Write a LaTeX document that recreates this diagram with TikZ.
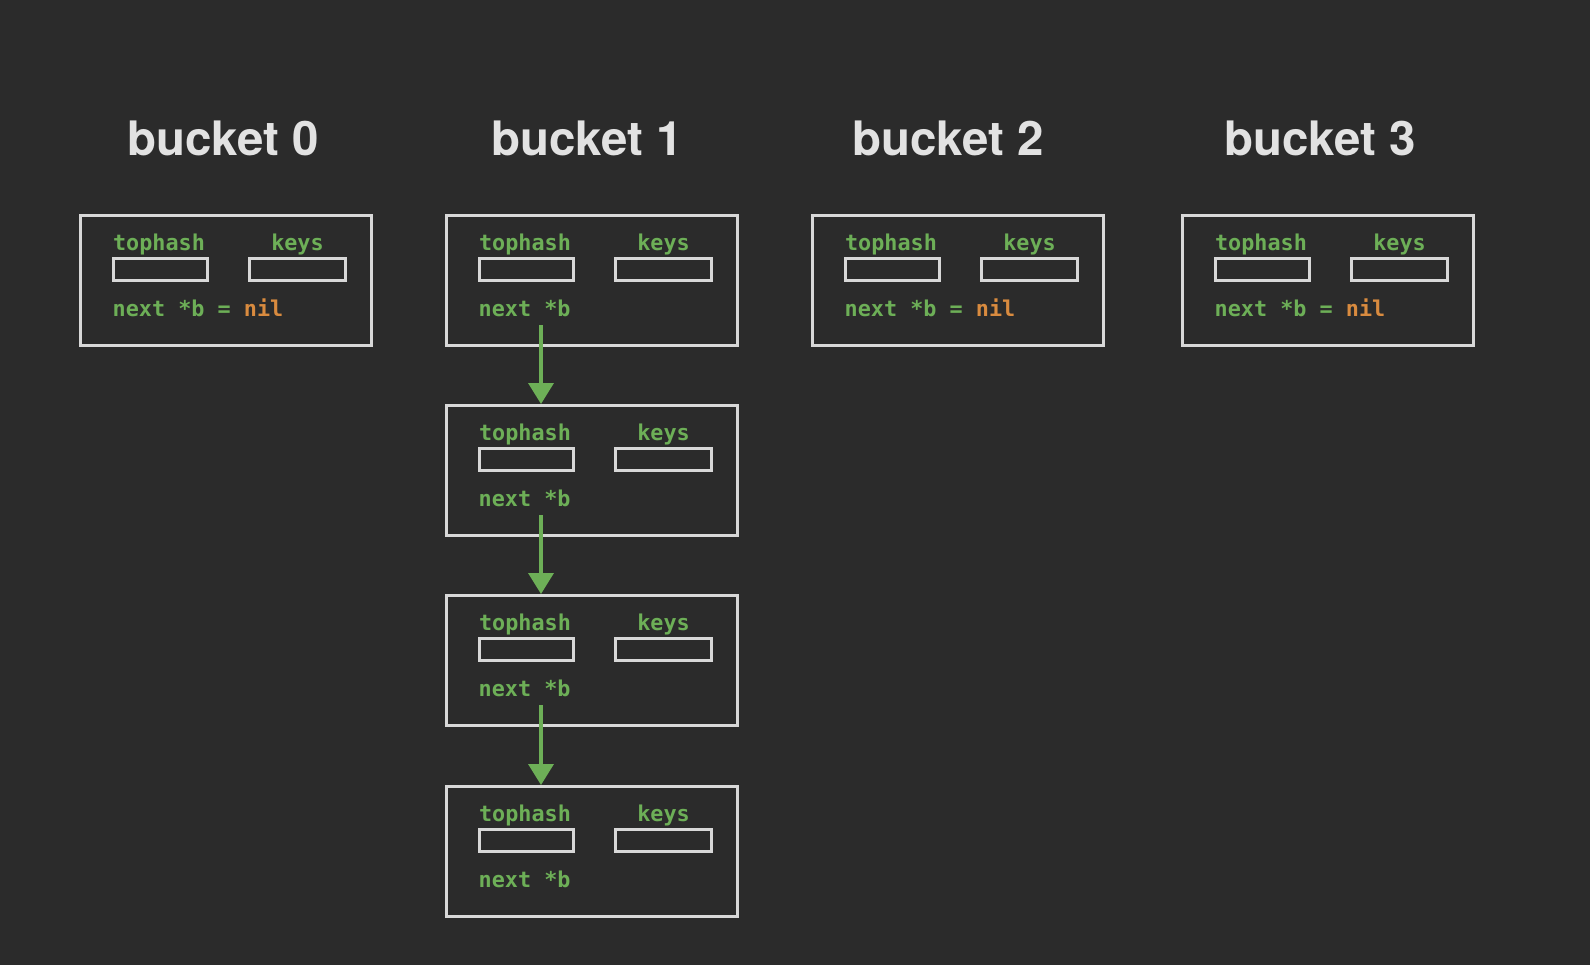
\documentclass[tikz,border=0pt]{standalone}
\usepackage{fontspec}
\setsansfont{TeX Gyre Heros}
\setmonofont{DejaVu Sans Mono}
\usetikzlibrary{positioning,arrows.meta}

\definecolor{bg}{HTML}{2B2B2B}
\definecolor{linegray}{HTML}{D8D8D8}
\definecolor{titlegray}{HTML}{E2E2E2}
\definecolor{codegreen}{HTML}{6DAF57}
\definecolor{nilorange}{HTML}{D98B3F}

\begin{document}
\begin{tikzpicture}[x=0.1mm,y=-0.1mm,
    title/.style={font={\fontsize{13.5}{16}\sffamily\bfseries},text=titlegray,inner sep=0pt},
    bucket/.style={draw=linegray,line width=0.3mm,anchor=north west,
        minimum width=29.1mm,minimum height=13mm,inner sep=0pt},
    slot/.style={draw=linegray,line width=0.3mm,
        minimum width=9.4mm,minimum height=2.2mm,inner sep=0pt},
    field/.style={font={\fontsize{6.2}{7}\ttfamily\bfseries},text=codegreen,inner sep=0pt},
    link/.style={draw=codegreen,line width=0.35mm,
        -{Triangle[length=2.1mm,width=2.5mm]}},
    ]
    % Background
    \fill[bg] (0,0) rectangle (1590,965);
    \useasboundingbox (0,0) rectangle (1590,965);

    % Bucket array
    \foreach \i/\x/\t in {0/79/223,1/445/587,2/811/948,3/1181/1320}{
        \node[title] (title\i) at (\t,138) {bucket \i};
        \node[bucket] (b\i) at (\x,214) {};
    }

    % Overflow buckets of bucket 1
    \node[bucket] (c1) at (445,404) {};
    \node[bucket] (c2) at (445,594) {};
    \node[bucket] (c3) at (445,785) {};

    % Fields of every bucket
    \foreach \b in {b0,b1,b2,b3,c1,c2,c3}{
        \node[slot,below right=4.3mm and 3.3mm of \b.north west] (th-\b) {};
        \node[slot,below right=4.3mm and 16.9mm of \b.north west,minimum width=9.6mm] (ks-\b) {};
        \node[field,above=0.7mm of th-\b.north,anchor=base,xshift=-0.15mm] (thl-\b) {tophash};
        \node[field,above=0.7mm of ks-\b.north,anchor=base] (ksl-\b) {keys};
    }

    % Next pointers
    \foreach \b in {b0,b2,b3}
        \node[field,below=3.4mm of th-\b.south west,anchor=base west] (nx-\b)
            {next *b = {\color{nilorange}nil}};
    \foreach \b in {b1,c1,c2,c3}
        \node[field,below=3.4mm of th-\b.south west,anchor=base west] (nx-\b) {next *b};

    % Overflow chain
    \foreach \b/\c in {b1/c1,c1/c2,c2/c3}{
        \coordinate (out-\b) at ([shift={(96,111)}]\b.north west);
        \draw[link] (out-\b) -- (out-\b |- \c.north);
    }
\end{tikzpicture}
\end{document}
